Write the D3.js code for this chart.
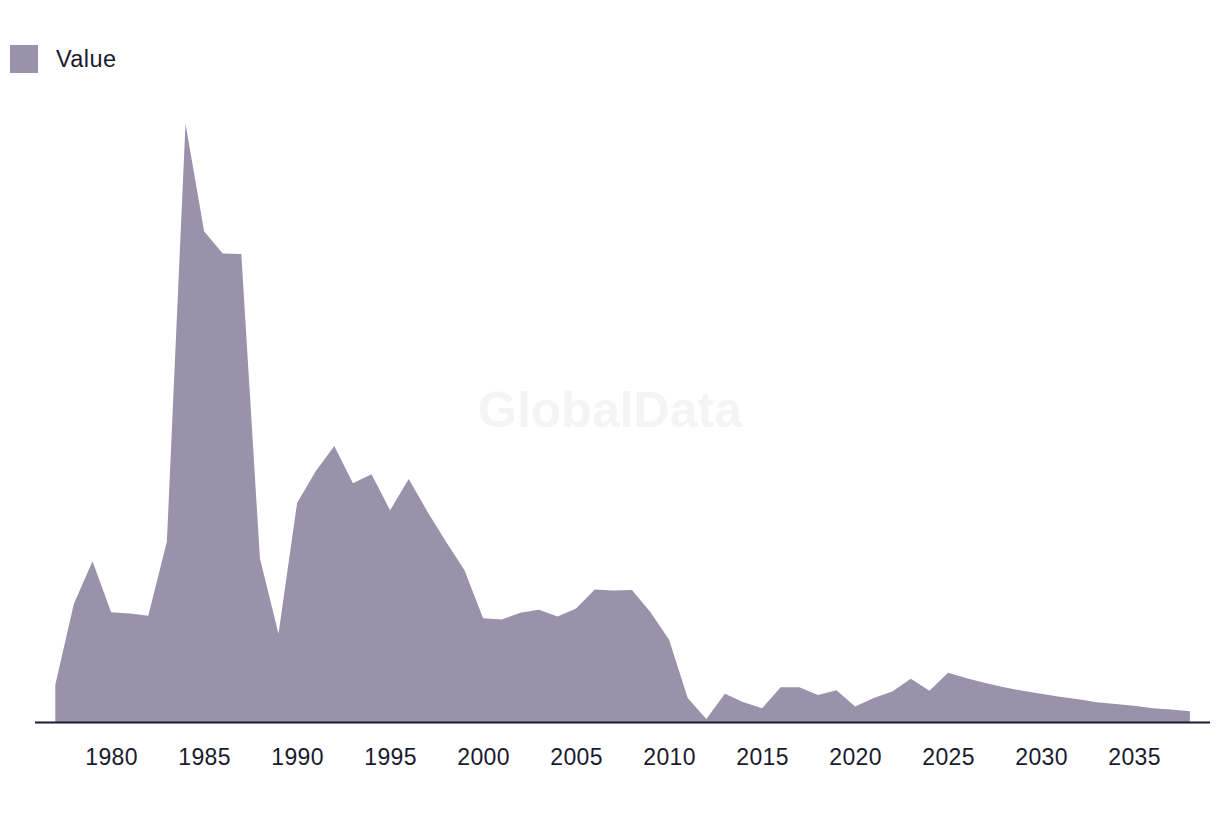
<!DOCTYPE html>
<html>
<head>
<meta charset="utf-8">
<script src="https://cdn.jsdelivr.net/npm/d3@7"></script>
<style>
  html, body { margin: 0; padding: 0; background: #ffffff; }
  svg { display: block; }
</style>
</head>
<body>
<svg id="chart" width="1220" height="816"></svg>
<script>
const years = [1977,1978,1979,1980,1981,1982,1983,1984,1985,1986,1987,1988,1989,1990,1991,1992,1993,1994,1995,1996,1997,1998,1999,2000,2001,2002,2003,2004,2005,2006,2007,2008,2009,2010,2011,2012,2013,2014,2015,2016,2017,2018,2019,2020,2021,2022,2023,2024,2025,2026,2027,2028,2029,2030,2031,2032,2033,2034,2035,2036,2037,2038];
const values = [6.2,19.7,26.8,18.3,18.1,17.7,30.1,99.7,81.8,78.1,78.0,27.3,14.7,36.5,41.8,46.0,39.8,41.3,35.3,40.5,35.1,30.1,25.3,17.3,17.1,18.2,18.7,17.6,18.9,22.1,21.9,22.0,18.3,13.7,4.0,0.5,4.7,3.3,2.3,5.8,5.8,4.5,5.3,2.6,4.0,5.1,7.2,5.2,8.2,7.3,6.5,5.8,5.2,4.7,4.2,3.8,3.3,3.0,2.7,2.3,2.1,1.8];
const tickYears = [1980,1985,1990,1995,2000,2005,2010,2015,2020,2025,2030,2035];
const seriesName = "Value";
const watermark = "GlobalData";

const data = years.map((y, i) => ({ year: y, value: values[i] }));
const svg = d3.select("#chart");
const fillColor = "#9a91aa";
const inkColor = "#1a1a2e";
const font = "Liberation Sans, Arial, sans-serif";

const x = d3.scaleLinear().domain([1977, 2038]).range([55.3, 1189.9]);
const y = d3.scaleLinear().domain([0, 100]).range([722, 122]);

// watermark
svg.append("text")
  .attr("x", 610).attr("y", 427)
  .attr("text-anchor", "middle")
  .attr("font-family", font)
  .attr("font-weight", "bold")
  .attr("font-size", 50)
  .attr("fill", "#f4f4f4")
  .text(watermark);

// area
const area = d3.area()
  .x(d => x(d.year))
  .y0(y(0))
  .y1(d => y(d.value));
svg.append("path")
  .datum(data)
  .attr("d", area)
  .attr("fill", fillColor);

// baseline
svg.append("line")
  .attr("x1", 35).attr("x2", 1210)
  .attr("y1", y(0) + 0.5).attr("y2", y(0) + 0.5)
  .attr("stroke", inkColor).attr("stroke-width", 2);

// x axis labels
const axis = d3.axisBottom(x).tickValues(tickYears).tickFormat(d3.format("d")).tickSize(0).tickPadding(26.5);
const gx = svg.append("g").attr("transform", `translate(0,${y(0)})`).call(axis);
gx.select(".domain").remove();
gx.selectAll("text")
  .attr("font-family", font)
  .attr("font-size", 23)
  .attr("letter-spacing", 0.4)
  .attr("fill", inkColor);

// legend
const lg = svg.append("g");
lg.append("rect").attr("x", 10).attr("y", 45).attr("width", 28).attr("height", 28).attr("fill", fillColor);
lg.append("text").attr("x", 56).attr("y", 66.7)
  .attr("font-family", font)
  .attr("font-size", 23.5)
  .attr("letter-spacing", 0.4)
  .attr("fill", inkColor)
  .text(seriesName);
</script>
</body>
</html>
